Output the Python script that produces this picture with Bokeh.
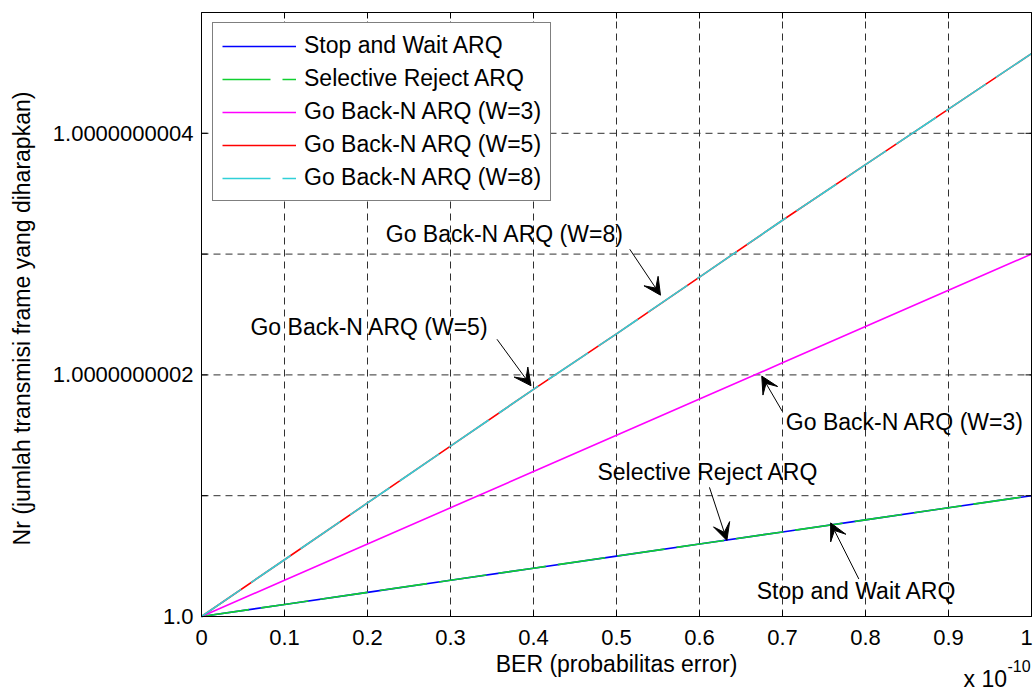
import math
from bokeh.plotting import figure
from bokeh.models import (Range1d, Legend, LegendItem, Label, Arrow, VeeHead, ColumnDataSource)
from bokeh.core.properties import value
from bokeh.embed import file_html
from bokeh.resources import INLINE

FONT = "Liberation Sans"

# BER (probabilitas error), in units of 1e-10
ber = [0.0, 0.1, 0.2, 0.3, 0.4, 0.5, 0.6, 0.7, 0.8, 0.9, 1.0]
# Nr - 1, in units of 1e-10
nr_stop_wait = [0.0, 0.1, 0.2, 0.3, 0.4, 0.5, 0.6, 0.7, 0.8, 0.9, 1.0]
nr_selective = [0.0, 0.1, 0.2, 0.3, 0.4, 0.5, 0.6, 0.7, 0.8, 0.9, 1.0]
nr_gbn_w3 = [0.0, 0.3, 0.6, 0.9, 1.2, 1.5, 1.8, 2.1, 2.4, 2.7, 3.0]
nr_gbn_w5 = [0.0, 0.47, 0.94, 1.41, 1.88, 2.34, 2.81, 3.28, 3.74, 4.20, 4.66]
nr_gbn_w8 = [0.0, 0.47, 0.94, 1.41, 1.88, 2.34, 2.81, 3.28, 3.74, 4.20, 4.66]

series_names = ["Stop and Wait ARQ", "Selective Reject ARQ", "Go Back-N ARQ (W=3)",
                "Go Back-N ARQ (W=5)", "Go Back-N ARQ (W=8)"]

x_ticks = [0, 0.1, 0.2, 0.3, 0.4, 0.5, 0.6, 0.7, 0.8, 0.9, 1]
x_tick_labels = ["0", "0.1", "0.2", "0.3", "0.4", "0.5", "0.6", "0.7", "0.8", "0.9", "1"]
y_ticks = [0, 1, 2, 3, 4]
y_label_ticks = [0, 2, 4]
y_tick_labels = ["1.0", "1.0000000002", "1.0000000004"]
x_min, x_max = 0, 1
y_min, y_max = 0, 5

# annotation texts with arrows: (text, text_x, text_y, tail_x, tail_y, head_x, head_y)
annotations = [
    ("Go Back-N ARQ (W=8)", 0.222, 3.17, 0.516, 3.04, 0.553, 2.66),
    ("Go Back-N ARQ (W=5)", 0.059, 2.40, 0.356, 2.295, 0.397, 1.91),
    ("Go Back-N ARQ (W=3)", 0.704, 1.606, 0.6996, 1.70, 0.675, 1.99),
    ("Selective Reject ARQ", 0.477, 1.193, 0.612, 1.069, 0.633, 0.63),
    ("Stop and Wait ARQ", 0.669, 0.215, 0.792, 0.31, 0.758, 0.775),
]

# ---- page geometry (pixels) ----
W, H = 1034, 691
LEFT, RIGHT, TOP, BOTTOM = 201, 3, 12, 75          # margins around the axes box
px_x = (W - LEFT - RIGHT) / (x_max - x_min)         # pixels per x unit
px_y = (H - TOP - BOTTOM) / (y_max - y_min)         # pixels per y unit

p = figure(width=W, height=H, output_backend="svg", toolbar_location=None,
           x_axis_location=None, y_axis_location=None, min_border=0,
           x_range=Range1d(x_min - LEFT / px_x, x_max + RIGHT / px_x),
           y_range=Range1d(y_min - BOTTOM / px_y, y_max + TOP / px_y))
p.background_fill_color = "white"
p.border_fill_color = "white"
p.outline_line_color = None
p.xgrid.visible = False
p.ygrid.visible = False

# grid (dashed) inside the axes box
p.segment(x0=x_ticks, y0=[y_min] * len(x_ticks), x1=x_ticks, y1=[y_max] * len(x_ticks),
          line_color="#303030", line_width=1, line_dash="7 5")
p.segment(x0=[x_min] * len(y_ticks), y0=y_ticks, x1=[x_max] * len(y_ticks), y1=y_ticks,
          line_color="#303030", line_width=1, line_dash="7 5")

src = ColumnDataSource(dict(x=ber, sw=nr_stop_wait, sr=nr_selective,
                            g3=nr_gbn_w3, g5=nr_gbn_w5, g8=nr_gbn_w8))

r_sw = p.line("x", "sw", source=src, line_color="#0000ff", line_width=1.6)
r_sr = p.line("x", "sr", source=src, line_color="#10d030", line_width=1.6, line_dash="48 12")
r_g3 = p.line("x", "g3", source=src, line_color="#ff00ff", line_width=1.6)
r_g5 = p.line("x", "g5", source=src, line_color="#ff0000", line_width=1.6)
r_g8 = p.line("x", "g8", source=src, line_color="#30d0d8", line_width=1.6, line_dash="48 12")

# axes box
p.quad(left=[x_min], right=[x_max], bottom=[y_min], top=[y_max],
       fill_color=None, line_color="black", line_width=1)

# inward tick marks on all four sides
TICK = 6
p.ray(x=x_ticks, y=[y_min] * len(x_ticks), length=TICK, length_units="screen",
      angle=math.pi / 2, line_color="black", line_width=1)
p.ray(x=x_ticks, y=[y_max] * len(x_ticks), length=TICK, length_units="screen",
      angle=-math.pi / 2, line_color="black", line_width=1)
p.ray(x=[x_min] * len(y_ticks), y=y_ticks, length=TICK, length_units="screen",
      angle=0, line_color="black", line_width=1)
p.ray(x=[x_max] * len(y_ticks), y=y_ticks, length=TICK, length_units="screen",
      angle=math.pi, line_color="black", line_width=1)

# tick labels (the last one is nudged so that it stays on the page)
x_label_pos = [min(t, x_max - 5 / px_x) for t in x_ticks]
p.text(x=x_label_pos, y=[y_min - 21 / px_y] * len(x_ticks), text=x_tick_labels,
       text_font=value(FONT), text_font_size="22px", text_color="black",
       text_align="center", text_baseline="middle")
p.text(x=[x_min - 8 / px_x] * len(y_label_ticks), y=y_label_ticks, text=y_tick_labels,
       text_font=value(FONT), text_font_size="22px", text_color="black",
       text_align="right", text_baseline="middle")

# axis labels
p.add_layout(Label(x=(x_min + x_max) / 2, y=y_min - 47 / px_y, text="BER (probabilitas error)",
                   text_font=FONT, text_font_size="23px", text_color="black",
                   text_align="center", text_baseline="middle"))
p.add_layout(Label(x=x_min - 180 / px_x, y=y_min + 298 / px_y,
                   text="Nr (jumlah transmisi frame yang diharapkan)",
                   text_font=FONT, text_font_size="23px", text_color="black",
                   text_align="center", text_baseline="middle", angle=math.pi / 2))

# exponent of x axis
p.add_layout(Label(x=x_max - 68 / px_x, y=y_min - 62 / px_y, text="x 10",
                   text_font=FONT, text_font_size="23px", text_baseline="middle",
                   text_color="black"))
p.add_layout(Label(x=x_max - 24 / px_x, y=y_min - 49 / px_y, text="-10",
                   text_font=FONT, text_font_size="16px", text_baseline="middle",
                   text_color="black"))

# legend (location = bottom-left corner of the box, in pixels from the canvas bottom-left)
legend = Legend(items=[LegendItem(label=n, renderers=[r]) for n, r in
                       zip(series_names, [r_sw, r_sr, r_g3, r_g5, r_g8])],
                location=(212, H - 201))
legend.margin = 0
legend.padding = 9
legend.spacing = 6
legend.label_height = 26
legend.glyph_height = 26
legend.glyph_width = 74
legend.label_standoff = 8
legend.label_text_font = FONT
legend.label_text_font_size = "23px"
legend.label_text_color = "black"
legend.border_line_color = "black"
legend.border_line_width = 1
legend.background_fill_color = "white"
legend.background_fill_alpha = 1
p.add_layout(legend)

# annotations
for txt, tx, ty, x0, y0, x1, y1 in annotations:
    p.add_layout(Label(x=tx, y=ty, text=txt, text_font=FONT, text_font_size="23px",
                       text_baseline="middle", text_align="left", text_color="black"))
    p.add_layout(Arrow(x_start=x0, y_start=y0, x_end=x1, y_end=y1, line_color="black",
                       line_width=1,
                       end=VeeHead(size=17, fill_color="black", line_color="black")))

open("out.html", "w").write(file_html(p, INLINE))
